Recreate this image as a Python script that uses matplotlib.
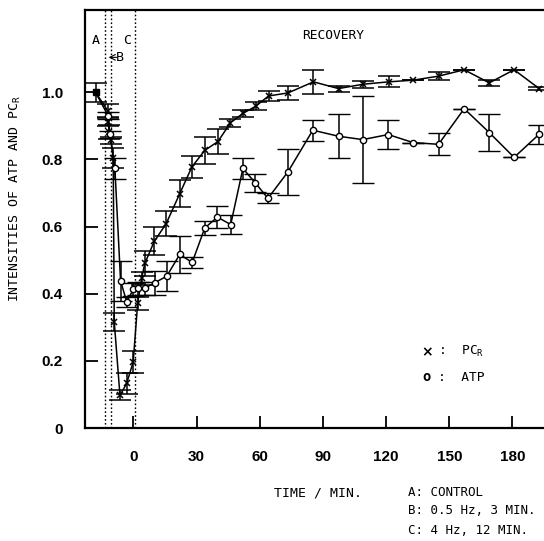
import numpy as np
import matplotlib.pyplot as plt

plt.rcParams['font.family'] = ['DejaVu Sans Mono']

# control (both ATP and PCr)
ctrl_t = [-18]
ctrl_v = [1.0]
ctrl_e = [0.028]

# PCr
pcr_t = np.array([-12.2, -11.9, -11.5, -10.6, -9.6, -9.1, -6.4, -3.2, -0.1, 2.0, 3.9, 5.4,
                  9.9, 15.5, 22, 27.8, 33.9, 40.1, 46.1, 52, 58, 64.2, 73.4, 85.5, 97.4,
                  109.2, 121.2, 132.9, 144.9, 157.1, 169, 180.8, 192.7])
pcr_v = np.array([0.945, 0.912, 0.882, 0.857, 0.805, 0.316, 0.097, 0.133, 0.197, 0.371, 0.446, 0.49,
                  0.556, 0.608, 0.698, 0.778, 0.827, 0.853, 0.909, 0.937, 0.958, 0.989, 0.998,
                  1.031, 1.011, 1.024, 1.031, 1.036, 1.048, 1.067, 1.028, 1.067, 1.011])
pcr_e = np.array([0.02, 0.012, 0.02, 0.01, 0.03, 0.027, 0.015, 0.032, 0.032, 0.02, 0.02, 0.037,
                  0.042, 0.037, 0.04, 0.032, 0.04, 0.037, 0.012, 0.01, 0.012, 0.016, 0.022,
                  0.035, 0.009, 0.011, 0.016, 0.0, 0.011, 0.0, 0.009, 0.0, 0.004])

# ATP
atp_t = np.array([-12.0, -11.2, -8.8, -6.1, -3.2, 0.0, 2.3, 5.4, 10.2, 15.8, 22, 27.9, 33.9,
                  39.9, 46.2, 52, 57.9, 63.9, 73.4, 85.2, 97.4, 108.9, 121, 132.9, 144.9,
                  157.1, 169, 180.8, 192.7])
atp_v = np.array([0.93, 0.875, 0.773, 0.438, 0.376, 0.413, 0.416, 0.416, 0.433, 0.452, 0.517,
                  0.493, 0.596, 0.628, 0.606, 0.773, 0.730, 0.684, 0.763, 0.887, 0.869, 0.859,
                  0.874, 0.850, 0.845, 0.951, 0.880, 0.806, 0.875])
atp_e = np.array([0.01, 0.01, 0.03, 0.06, 0.015, 0.02, 0.02, 0.02, 0.036, 0.045, 0.056, 0.017,
                  0.022, 0.033, 0.028, 0.03, 0.026, 0.015, 0.068, 0.031, 0.066, 0.129, 0.042,
                  0.0, 0.033, 0.0, 0.055, 0.0, 0.028])

phase_lines = [-13.5, -10.6, 0.6]

fig = plt.figure(figsize=(5.44, 5.41), dpi=100)
ax = fig.add_axes([85 / 544, 1 - 428 / 541, 1 - 85 / 544, (428 - 10) / 541])

ax.plot(np.r_[ctrl_t, pcr_t], np.r_[ctrl_v, pcr_v], color='black', lw=1.1)
ax.plot(np.r_[ctrl_t, atp_t], np.r_[ctrl_v, atp_v], color='black', lw=1.1)

eb = dict(color='black', ecolor='black', elinewidth=1.1, capsize=8, capthick=1.1, ls='none')
ax.errorbar(pcr_t, pcr_v, yerr=pcr_e, fmt='x', ms=5, mew=1.1, **eb)
ax.errorbar(atp_t, atp_v, yerr=atp_e, fmt='o', ms=4.5, mfc='white', mew=1.0, **eb)
ax.errorbar(ctrl_t, ctrl_v, yerr=ctrl_e, fmt='s', ms=5, mfc='black', **eb)

for x in phase_lines:
    ax.axvline(x, color='black', ls=(0, (1.2, 1.6)), lw=1.0)

ax.set_xlim(-23, 195)
ax.set_ylim(0, 1.245)
ax.set_xticks([0, 30, 60, 90, 120, 150, 180])
ax.set_yticks([0, 0.2, 0.4, 0.6, 0.8, 1.0])
ax.set_yticklabels(['0', '0.2', '0.4', '0.6', '0.8', '1.0'])
ax.tick_params(direction='in', length=9, width=1.3)
ax.tick_params(axis='x', pad=16)
ax.tick_params(axis='y', pad=16)
for lab in ax.get_xticklabels() + ax.get_yticklabels():
    lab.set_family(['Liberation Sans', 'DejaVu Sans'])
    lab.set_fontweight('bold')
    lab.set_fontsize(11)
ax.spines['right'].set_visible(False)
for s in ['left', 'top', 'bottom']:
    ax.spines[s].set_linewidth(1.6)

ax.text(-18, 1.155, 'A', fontsize=9.5, ha='center', va='center')
ax.text(-3.0, 1.155, 'C', fontsize=9.5, ha='center', va='center')
ax.text(-6.2, 1.104, 'B', fontsize=9.5, ha='center', va='center')
ax.annotate('', xy=(-11.8, 1.104), xytext=(-8.0, 1.104),
            arrowprops=dict(arrowstyle='->', lw=0.8, color='black', shrinkA=0, shrinkB=0))
ax.text(95, 1.17, 'RECOVERY', fontsize=9.3, ha='center', va='center')

ax.text(0.745, 0.182, '×', transform=ax.transAxes, fontsize=10, fontweight='bold',
        ha='center', va='center', family=['DejaVu Sans'])
ax.text(0.77, 0.182, ':  PC$\\mathregular{_R}$', transform=ax.transAxes, fontsize=9.3,
        ha='left', va='center')
ax.text(0.745, 0.122, 'o', transform=ax.transAxes, fontsize=10, fontweight='bold',
        ha='center', va='center')
ax.text(0.77, 0.122, ':  ATP', transform=ax.transAxes, fontsize=9.3, ha='left', va='center')

fig.text(15 / 544, 1 - 198 / 541, 'INTENSITIES OF ATP AND PC$\\mathregular{_R}$', rotation=90,
         fontsize=9.5, ha='center', va='center')
fig.text(318 / 544, 1 - 493 / 541, 'TIME / MIN.', fontsize=9.5, ha='center', va='center')
fig.text(408 / 544, 1 - 492 / 541, 'A: CONTROL', fontsize=9, ha='left', va='center')
fig.text(408 / 544, 1 - 511 / 541, 'B: 0.5 Hz, 3 MIN.', fontsize=9, ha='left', va='center')
fig.text(408 / 544, 1 - 530 / 541, 'C: 4 Hz, 12 MIN.', fontsize=9, ha='left', va='center')

fig.savefig('out.png', dpi=100)
